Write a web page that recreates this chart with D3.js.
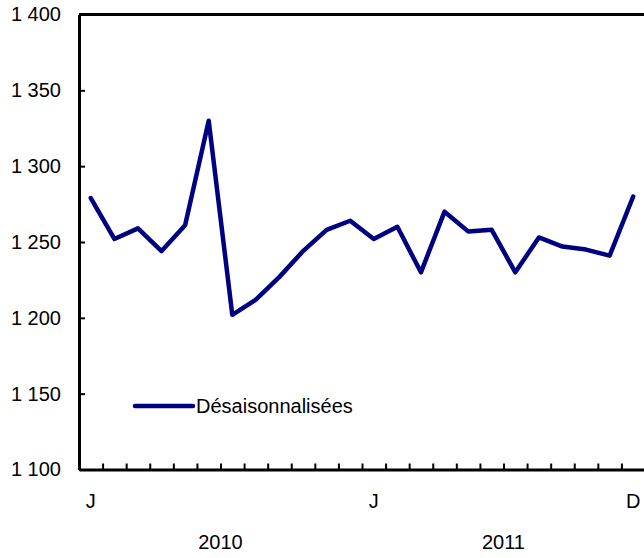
<!DOCTYPE html>
<html lang="fr">
  <head>
    <meta charset="utf-8" />
    <title>Désaisonnalisées</title>
    <script type="text/javascript" src="https://d3js.org/d3.v7.min.js"></script>
    <style>
      body { margin: 0; background: #fff; }
      text { font-family: Arial, "Liberation Sans", sans-serif; font-size: 20px; fill: #000; }
    </style>
  </head>
  <body>
    <div id="chart"></div>
    <script type="text/javascript">
      /********************************
       * data
       ********************************/
      const months = ["J", "F", "M", "A", "M", "J", "J", "A", "S", "O", "N", "D",
                      "J", "F", "M", "A", "M", "J", "J", "A", "S", "O", "N", "D"];
      const monthKeys = months.map((m, i) => i); // one slot per month
      const values = [1279, 1252, 1259, 1244, 1261, 1330, 1202, 1212, 1227, 1244, 1258, 1264,
                      1252, 1260, 1230, 1270, 1257, 1258, 1230, 1253, 1247, 1245, 1241, 1280];
      const shownMonths = [0, 12, 23]; // J, J, D
      const years = ["2010", "2011"];
      const yTicks = [1100, 1150, 1200, 1250, 1300, 1350, 1400];
      const seriesName = "Désaisonnalisées";

      /********************************
       * svg
       ********************************/
      const width = 644;
      const height = 558;
      const plotLeft = 79, plotRight = 645, plotTop = 14.5, plotBottom = 469.5;

      const svg = d3.select("div#chart")
        .append("svg")
        .attr("width", width)
        .attr("height", height);

      // scales
      const x = d3.scaleBand().domain(monthKeys).range([plotLeft, plotRight]).padding(0);
      const xEdge = d3.scaleLinear().domain([0, months.length]).range([plotLeft, plotRight]);
      const y = d3.scaleLinear().domain([1100, 1400]).range([plotBottom, plotTop]);

      const frLocale = d3.formatLocale({ decimal: ",", thousands: " ", grouping: [3], currency: ["", " €"] });
      const fmt = frLocale.format(",");

      // top border
      svg.append("line")
        .attr("x1", plotLeft).attr("x2", plotRight)
        .attr("y1", plotTop).attr("y2", plotTop)
        .style("stroke", "#000").style("stroke-width", 3);

      // y axis
      const yAxis = svg.append("g")
        .attr("transform", `translate(${plotLeft},0)`)
        .call(d3.axisLeft(y).tickValues(yTicks).tickSizeInner(-6).tickSizeOuter(0).tickPadding(18).tickFormat(fmt));
      yAxis.attr("font-size", null).attr("font-family", null);
      yAxis.select(".domain").style("stroke", "#000").style("stroke-width", 3);
      yAxis.selectAll(".tick line").style("stroke", "#000").style("stroke-width", 2);

      // x axis (ticks between months)
      const xAxis = svg.append("g")
        .attr("transform", `translate(0,${plotBottom})`)
        .call(d3.axisBottom(xEdge).tickValues(d3.range(1, months.length)).tickSizeInner(-6).tickSizeOuter(0).tickFormat(""));
      xAxis.select(".domain").style("stroke", "#000").style("stroke-width", 3);
      xAxis.selectAll(".tick line").style("stroke", "#000").style("stroke-width", 2);

      // month labels
      svg.selectAll("text.month")
        .data(shownMonths)
        .enter()
        .append("text")
        .attr("class", "month")
        .attr("x", (d) => x(d) + x.bandwidth() / 2)
        .attr("y", 508)
        .attr("text-anchor", "middle")
        .text((d) => months[d]);

      // year labels
      svg.selectAll("text.year")
        .data(years)
        .enter()
        .append("text")
        .attr("class", "year")
        .attr("x", (d, i) => (x(i * 12) + x(i * 12 + 11)) / 2 + x.bandwidth() / 2)
        .attr("y", 549)
        .attr("text-anchor", "middle")
        .text((d) => d);

      // line
      const line = d3.line()
        .x((d, i) => x(i) + x.bandwidth() / 2)
        .y((d) => y(d));

      svg.append("path")
        .datum(values)
        .attr("d", line)
        .style("fill", "none")
        .style("stroke", "#000080")
        .style("stroke-width", 4.5)
        .style("stroke-linejoin", "round")
        .style("stroke-linecap", "round");

      // legend
      const legend = svg.append("g").attr("transform", "translate(135,406)");
      legend.append("line")
        .attr("x1", 0).attr("x2", 58)
        .style("stroke", "#000080")
        .style("stroke-width", 4.5)
        .style("stroke-linecap", "round");
      legend.append("text")
        .attr("x", 61)
        .attr("y", 7)
        .text(seriesName);
    </script>
  </body>
</html>
